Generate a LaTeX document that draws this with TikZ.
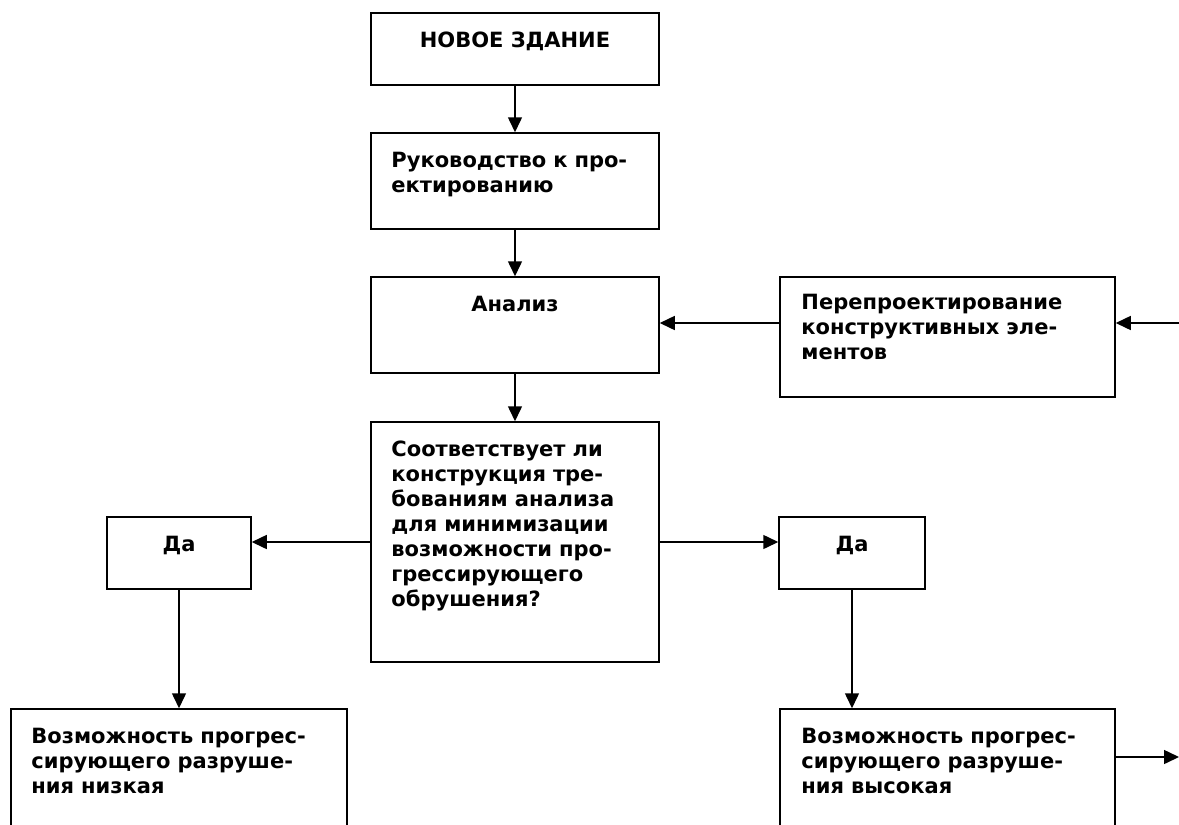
\documentclass[tikz,border=0pt]{standalone}
\usepackage{fontspec}
\setmainfont{DejaVu Sans}
\usetikzlibrary{arrows.meta}
\tikzset{
  box/.style={draw, line width=1.5pt, inner sep=0pt},
  lbl/.style={inner sep=0pt, font=\fontsize{21pt}{25pt}\selectfont\bfseries},
  para/.style={lbl, text width=330pt, align=left, anchor=base west},
  link/.style={line width=1.5pt, -{Triangle[length=15pt,width=14pt]}},
}

\begin{document}
\begin{tikzpicture}[x=1pt,y=-1pt]%
  \useasboundingbox (0,0) rectangle (1179,825);%
  \clip (0,0) rectangle (1179,825);%
  % main column
  \node[box, minimum width=288pt, minimum height=72pt] (newbld) at (515,49) {};%
  \node[box, minimum width=288pt, minimum height=96pt] (guide) at (515,181) {};%
  \node[box, minimum width=288pt, minimum height=96pt] (analysis) at (515,325) {};%
  \node[box, minimum width=288pt, minimum height=240pt] (check) at (515,542) {};%
  \node[box, minimum width=335pt, minimum height=120pt] (redesign) at (947.5,337) {};%
  % branches
  \node[box, minimum width=144pt, minimum height=72pt] (yesL) at (179,553) {};%
  \node[box, minimum width=146pt, minimum height=72pt] (yesR) at (852,553) {};%
  \node[box, minimum width=336pt, minimum height=140pt] (lowL) at (179,779) {};%
  \node[box, minimum width=335pt, minimum height=140pt] (highR) at (947.5,779) {};%
  % texts
  \node[lbl, anchor=base] (newbld-t) at ([shift={(0,35)}]newbld.north) {НОВОЕ ЗДАНИЕ};%
  \node[para] (guide-t) at ([shift={(21,35)}]guide.north west) {Руководство к про-\\ектированию};%
  \node[lbl, anchor=base] (analysis-t) at ([shift={(0,35)}]analysis.north) {Анализ};%
  \node[para] (redesign-t) at ([shift={(22,33)}]redesign.north west) {Перепроектирование\\конструктивных эле-\\ментов};%
  \node[para] (check-t) at ([shift={(21,35)}]check.north west) {Соответствует ли\\конструкция тре-\\бованиям анализа\\для минимизации\\возможности про-\\грессирующего\\обрушения?};%
  \node[lbl, anchor=base] (yesL-t) at ([shift={(0,35)}]yesL.north) {Да};%
  \node[lbl, anchor=base] (yesR-t) at ([shift={(0,35)}]yesR.north) {Да};%
  \node[para] (lowL-t) at ([shift={(21,35)}]lowL.north west) {Возможность прогрес-\\сирующего разруше-\\ния низкая};%
  \node[para] (highR-t) at ([shift={(22,35)}]highR.north west) {Возможность прогрес-\\сирующего разруше-\\ния высокая};%
  % connectors
  \coordinate (feedin) at (1180,323);%
  \coordinate (feedout) at (1179,757);%
  \draw[link] (newbld) -- (guide);%
  \draw[link] (guide) -- (analysis);%
  \draw[link] (analysis) -- (check);%
  \draw[link] (redesign.west |- feedin) -- (analysis.east |- feedin);%
  \draw[link] (feedin) -- (feedin -| redesign.east);%
  \draw[link] (check.west) -- (check.west -| yesL.east);%
  \draw[link] (check.east) -- (check.east -| yesR.west);%
  \draw[link] (yesL) -- (lowL);%
  \draw[link] (yesR.south) -- (yesR.south |- highR.north);%
  \draw[link] (highR.east |- feedout) -- (feedout);%
\end{tikzpicture}
\end{document}
